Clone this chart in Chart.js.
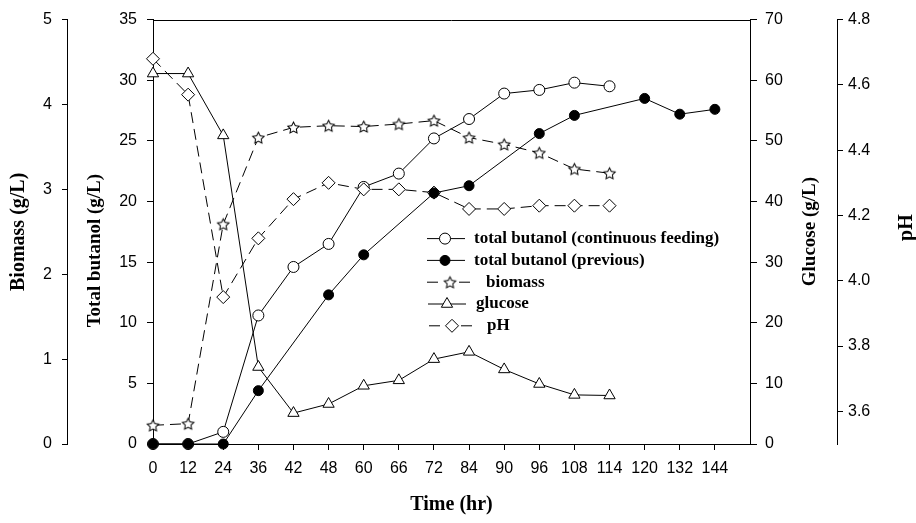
<!DOCTYPE html>
<html>
<head>
<meta charset="utf-8">
<script src="https://cdn.jsdelivr.net/npm/chart.js@4.4.1/dist/chart.umd.min.js"></script>
<style>
html,body{margin:0;padding:0;background:#fff;}
#wrap{width:916px;height:523px;position:relative;}
canvas{display:block;}
</style>
</head>
<body>
<div id="wrap"><canvas id="c" width="916" height="523"></canvas></div>
<script>
// ---- data ----
const timeLabels = ['0','12','24','36','42','48','60','66','72','84','90','96','108','114','120','132','144'];
const butanolContinuous = [0, 0, 1.0, 10.6, 14.6, 16.5, 21.2, 22.3, 25.2, 26.8, 28.9, 29.2, 29.8, 29.5];
const butanolPrevious = [0, 0, 0, 4.4, null, 12.3, 15.6, null, 20.7, 21.3, null, 25.6, 27.1, null, 28.5, 27.2, 27.6];
const biomass = [0.22, 0.24, 2.59, 3.61, 3.73, 3.75, 3.74, 3.77, 3.81, 3.61, 3.53, 3.43, 3.24, 3.19];
const glucose = [61.1, 61.1, 50.9, 12.7, 5.1, 6.6, 9.6, 10.5, 14.0, 15.2, 12.3, 9.9, 8.1, 8.0];
const pH = [4.68, 4.57, 3.95, 4.13, 4.25, 4.30, 4.28, 4.28, 4.27, 4.22, 4.22, 4.23, 4.23, 4.23];

const butanolTicks = [0, 5, 10, 15, 20, 25, 30, 35];
const biomassTicks = [0, 1, 2, 3, 4, 5];
const glucoseTicks = [0, 10, 20, 30, 40, 50, 60, 70];
const phTicks = [3.6, 3.8, 4.0, 4.2, 4.4, 4.6, 4.8];

const seriesNames = ['total butanol (continuous feeding)', 'total butanol (previous)', 'biomass', 'glucose', 'pH'];
const axisTitles = {x: 'Time (hr)', butanol: 'Total butanol (g/L)', biomass: 'Biomass (g/L)', glucose: 'Glucose (g/L)', ph: 'pH'};

// ---- styling helpers ----
const SERIF = '"Liberation Serif", "Times New Roman", serif';
const SANS = '"Liberation Sans", Arial, sans-serif';
const tickFont = {family: SANS, size: 16};
const titleFont = {family: SERIF, size: 20, weight: 'bold'};

function toPoints(arr) { return arr.map((v, i) => ({x: i, y: v})); }
function setTicks(arr) { return (s) => { s.ticks = arr.map(v => ({value: v})); }; }

function makeStarImage(r, k) {
  const s = Math.ceil(r * 2 + 3);
  const c = document.createElement('canvas');
  c.width = s * k; c.height = s * k;
  const g = c.getContext('2d');
  g.scale(k, k);
  const cx = s / 2, cy = s / 2 + 0.6;
  g.beginPath();
  for (let i = 0; i < 10; i++) {
    const rr = (i % 2) ? r * 0.5 : r;
    const a = -Math.PI / 2 + i * Math.PI / 5;
    g.lineTo(cx + rr * Math.cos(a), cy + rr * Math.sin(a));
  }
  g.closePath();
  g.fillStyle = '#fff'; g.fill();
  g.lineWidth = 1; g.lineJoin = 'miter'; g.strokeStyle = '#000'; g.stroke();
  const img = new Image();
  img.width = s; img.height = s;
  return {img: img, src: c.toDataURL()};
}

function drawMarker(ctx, style, x, y, r, fill) {
  if (style instanceof HTMLImageElement || style instanceof HTMLCanvasElement) {
    ctx.drawImage(style, x - style.width / 2, y - style.height / 2, style.width, style.height);
    return;
  }
  ctx.beginPath();
  if (style === 'circle') {
    ctx.arc(x, y, r, 0, Math.PI * 2);
  } else if (style === 'triangle') {
    ctx.moveTo(x, y - r);
    ctx.lineTo(x + r * Math.sin(2 * Math.PI / 3), y - r * Math.cos(2 * Math.PI / 3));
    ctx.lineTo(x + r * Math.sin(4 * Math.PI / 3), y - r * Math.cos(4 * Math.PI / 3));
    ctx.closePath();
  } else if (style === 'rectRot') {
    ctx.moveTo(x - r, y); ctx.lineTo(x, y - r); ctx.lineTo(x + r, y); ctx.lineTo(x, y + r);
    ctx.closePath();
  }
  ctx.fillStyle = fill; ctx.fill();
  ctx.lineWidth = 1; ctx.strokeStyle = '#000'; ctx.stroke();
}

const DASH = [11, 6];

// legend layout (relative to chart area left/top)
const legendLayout = {
  rowTop: 219, rowGap: 21.8,
  entries: [
    {label: seriesNames[0], ds: 2, dashed: false, x0: 274, x1: 312, mx: 292, tx: 321},
    {label: seriesNames[1], ds: 0, dashed: false, x0: 274, x1: 312, mx: 292, tx: 321},
    {label: seriesNames[2], ds: 3, dashed: true,  x0: 274, x1: 317, mx: 297, tx: 333},
    {label: seriesNames[3], ds: 4, dashed: false, x0: 275, x1: 313, mx: 294, tx: 323},
    {label: seriesNames[4], ds: 1, dashed: true,  x0: 276, x1: 319, mx: 299, tx: 334}
  ]
};

const customLegend = {
  id: 'customLegend',
  afterDatasetsDraw(chart) {
    const ctx = chart.ctx, ca = chart.chartArea;
    ctx.save();
    legendLayout.entries.forEach((e, i) => {
      const ds = chart.data.datasets[e.ds];
      const y = ca.top + legendLayout.rowTop + i * legendLayout.rowGap;
      ctx.strokeStyle = '#000'; ctx.lineWidth = 1; ctx.setLineDash([]);
      ctx.beginPath();
      if (e.dashed) {
        ctx.moveTo(ca.left + e.x0, y); ctx.lineTo(ca.left + e.x0 + 11, y);
        ctx.moveTo(ca.left + e.x1 - 11, y); ctx.lineTo(ca.left + e.x1, y);
      } else {
        ctx.moveTo(ca.left + e.x0, y); ctx.lineTo(ca.left + e.x1, y);
      }
      ctx.stroke();
      drawMarker(ctx, ds.pointStyle, ca.left + e.mx, y, ds.pointRadius, ds.pointBackgroundColor);
      ctx.fillStyle = '#000';
      ctx.font = 'bold 17px ' + SERIF;
      ctx.textAlign = 'left'; ctx.textBaseline = 'middle';
      ctx.fillText(e.label, ca.left + e.tx, y);
    });
    ctx.restore();
  }
};

const frameAndTitles = {
  id: 'frameAndTitles',
  afterDraw(chart) {
    const ctx = chart.ctx, ca = chart.chartArea;
    ctx.save();
    ctx.strokeStyle = '#000'; ctx.lineWidth = 1;
    ctx.beginPath();
    ctx.moveTo(ca.left, Math.round(ca.top) + 0.5); ctx.lineTo(ca.right, Math.round(ca.top) + 0.5);
    ctx.stroke();
    ctx.fillStyle = '#000';
    ctx.textAlign = 'center'; ctx.textBaseline = 'middle';
    const b = chart.scales.yBut, g = chart.scales.yGlu, p = chart.scales.yPH;
    const items = [
      [b.left + 28, ca.top + 231, axisTitles.butanol, 19],
      [g.left + 60, ca.top + 212, axisTitles.glucose, 19],
      [p.left + 70, ca.top + 208, axisTitles.ph, 20]
    ];
    items.forEach(([x, y, t, sz]) => {
      ctx.save();
      ctx.font = 'bold ' + sz + 'px ' + SERIF;
      ctx.translate(x, y); ctx.rotate(-Math.PI / 2); ctx.fillText(t, 0, 0);
      ctx.restore();
    });
    ctx.restore();
  }
};

function yAxis(pos, weight, min, max, ticksArr, width, tickLen, pad, title, titlePad, fmt) {
  return {
    type: 'linear', position: pos, weight: weight, min: min, max: max,
    afterBuildTicks: setTicks(ticksArr),
    afterFit: (s) => { s.width = width; },
    ticks: {color: '#000', font: tickFont, padding: pad, callback: fmt || ((v) => String(v))},
    grid: {drawOnChartArea: false, drawTicks: true, tickLength: tickLen, color: '#000', tickColor: '#000'},
    border: {display: true, color: '#000', width: 1},
    title: title ? {display: true, text: title, color: '#000', font: titleFont, padding: {top: titlePad, bottom: 0}} : {display: false}
  };
}

function build(starImg) {
  const datasets = [
    {label: seriesNames[1], data: toPoints(butanolPrevious), yAxisID: 'yBut', pointStyle: 'circle', pointRadius: 5, pointBackgroundColor: '#000', spanGaps: true},
    {label: seriesNames[4], data: toPoints(pH), yAxisID: 'yPH', pointStyle: 'rectRot', pointRadius: 6.5, pointBackgroundColor: '#fff', borderDash: DASH},
    {label: seriesNames[0], data: toPoints(butanolContinuous), yAxisID: 'yBut', pointStyle: 'circle', pointRadius: 5.5, pointBackgroundColor: '#fff'},
    {label: seriesNames[2], data: toPoints(biomass), yAxisID: 'yBio', pointStyle: starImg, pointRadius: 6, pointBackgroundColor: '#fff', borderDash: DASH},
    {label: seriesNames[3], data: toPoints(glucose), yAxisID: 'yGlu', pointStyle: 'triangle', pointRadius: 6.5, pointBackgroundColor: '#fff'}
  ].map(d => Object.assign({borderColor: '#000', borderWidth: 1, pointBorderColor: '#000', pointBorderWidth: 1, tension: 0, clip: false, fill: false}, d));

  new Chart(document.getElementById('c'), {
    type: 'line',
    data: {datasets: datasets},
    options: {
      responsive: false,
      animation: false,
      events: [],
      layout: {padding: {top: 16, left: 0, right: 0, bottom: 0}},
      plugins: {legend: {display: false}, tooltip: {enabled: false}, title: {display: false}},
      scales: {
        x: {
          type: 'linear', position: 'bottom', min: 0, max: 17,
          afterBuildTicks: (s) => { s.ticks = timeLabels.map((_, i) => ({value: i})); },
          afterFit: (s) => { s.height = 79; },
          ticks: {autoSkip: false, maxRotation: 0, color: '#000', font: tickFont, padding: 9, callback: (v) => timeLabels[v]},
          grid: {drawOnChartArea: false, drawTicks: true, tickLength: 6, color: '#000', tickColor: '#000'},
          border: {display: true, color: '#000', width: 1},
          title: {display: true, text: axisTitles.x, color: '#000', font: titleFont, padding: {top: 0, bottom: 6}}
        },
        yBut: yAxis('left', 0, 0, 35, butanolTicks, 86, 6, 10, null, 0),
        yBio: yAxis('left', 1, 0, 5, biomassTicks, 67, 5, 10, axisTitles.biomass, 7),
        yGlu: yAxis('right', 0, 0, 70, glucoseTicks, 87, 7, 8, null, 0),
        yPH: yAxis('right', 1, 3.5, 4.8, phTicks, 79, 6, 5, null, 0, (v) => v.toFixed(1))
      }
    },
    plugins: [customLegend, frameAndTitles]
  });
}

const star = makeStarImage(6, 4);
let built = false;
star.img.onload = () => { if (!built) { built = true; build(star.img); } };
star.img.src = star.src;
</script>
</body>
</html>
